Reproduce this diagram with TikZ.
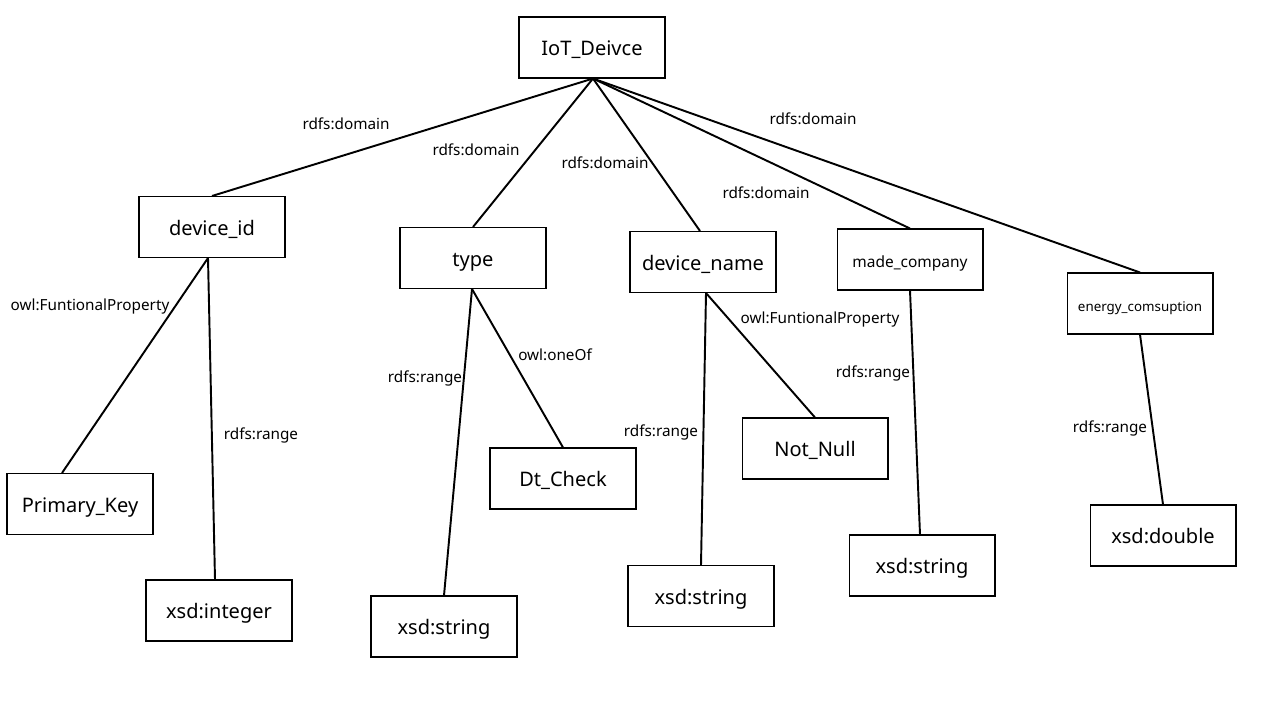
\documentclass[tikz,border=0pt]{standalone}
\usepackage{fontspec}
\setmainfont{Noto Sans}

\tikzset{
  cls/.style = {draw, line width=0.6pt, minimum width=2.92cm, minimum height=1.22cm, inner sep=0pt, text height=1.0em, text depth=0.08em, font=\fontsize{11.4}{14}\selectfont},
  clssmall/.style = {cls, font=\fontsize{8.8}{10}\selectfont},
  clstiny/.style = {cls, font=\fontsize{7.6}{9}\selectfont},
  rel/.style = {font=\fontsize{8.7}{10}\selectfont, inner sep=0pt},
  link/.style = {line width=1.1pt}
}

\begin{document}
\begin{tikzpicture}[x=0.02cm, y=-0.02cm]
\useasboundingbox (0,0) rectangle (1280,720);
% classes
\node[cls] (iot) at (592,47.5) {IoT\_Deivce};
\node[cls] (devid) at (212,227) {device\_id};
\node[cls] (type) at (473,258) {type};
\node[cls] (devname) at (703,262) {device\_name};
\node[clssmall] (company) at (910,259.5) {made\_company};
\node[clstiny] (energy) at (1140,303.5) {energy\_comsuption};
% ranges and constraints
\node[cls] (pk) at (80,504) {Primary\_Key};
\node[cls] (int) at (219,610.5) {xsd:integer};
\node[cls] (str1) at (444,626.5) {xsd:string};
\node[cls] (dtcheck) at (563,478.5) {Dt\_Check};
\node[cls] (str2) at (701,596) {xsd:string};
\node[cls] (notnull) at (815,448.5) {Not\_Null};
\node[cls] (str3) at (922,565.5) {xsd:string};
\node[cls] (dbl) at (1163,535.5) {xsd:double};
% domain links
\foreach \n in {devid,type,company,energy}
  \draw[link] ([xshift=0.02cm]iot.south) -- (\n.north);
\draw[link] ([xshift=0.02cm]iot.south) -- ([xshift=-0.06cm]devname.north);
% range links
\draw[link] ([xshift=-0.08cm]devid.south) -- ([xshift=-0.36cm]pk.north);
\draw[link] ([xshift=-0.08cm]devid.south) -- ([xshift=-0.08cm]int.north);
\draw[link] ([xshift=-0.02cm]type.south) -- (str1.north);
\draw[link] ([xshift=-0.02cm]type.south) -- (dtcheck.north);
\draw[link] ([xshift=0.06cm]devname.south) -- (str2.north);
\draw[link] ([xshift=0.06cm]devname.south) -- (notnull.north);
\draw[link] (company.south) -- ([xshift=-0.04cm]str3.north);
\draw[link] (energy.south) -- (dbl.north);
% labels
\foreach \x/\y in {346/124,476/150,605/163,766/193,813/119}
  \node[rel] (dom\x) at (\x,\y) {rdfs:domain};
\node[rel] (fp1) at (90,307) {owl:FuntionalProperty};
\node[rel] (fp2) at (820,320) {owl:FuntionalProperty};
\node[rel] (oneof) at (555,355) {owl:oneOf};
\foreach \x/\y in {261/435,425/378,661/432,873/373,1110/428}
  \node[rel] (rng\x) at (\x,\y) {rdfs:range};
\end{tikzpicture}
\end{document}
